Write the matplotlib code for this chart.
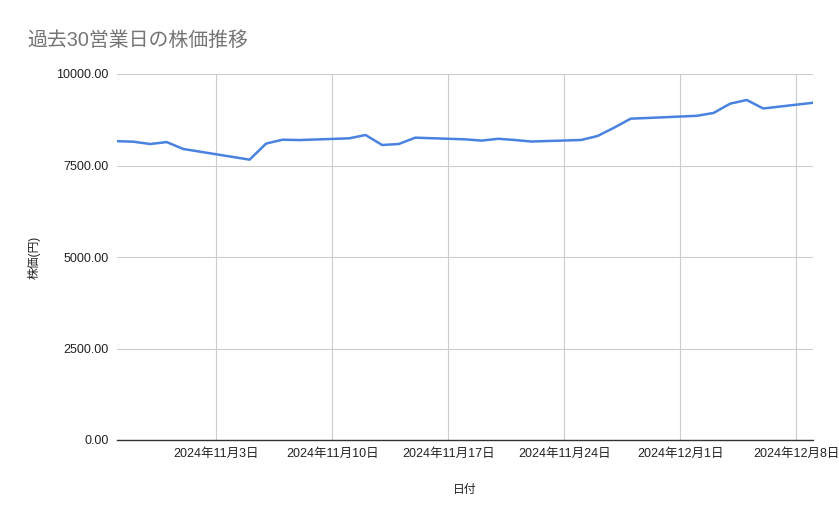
import matplotlib
matplotlib.use('Agg')
import matplotlib.pyplot as plt
import pandas as pd

plt.rcParams['font.family'] = ['Liberation Sans', 'Noto Sans CJK JP', 'DejaVu Sans']

# données : 30 jours ouvrés
dates = ['2024-10-28', '2024-10-29', '2024-10-30', '2024-10-31', '2024-11-01',
         '2024-11-05', '2024-11-06', '2024-11-07', '2024-11-08',
         '2024-11-11', '2024-11-12', '2024-11-13', '2024-11-14', '2024-11-15',
         '2024-11-18', '2024-11-19', '2024-11-20', '2024-11-21', '2024-11-22',
         '2024-11-25', '2024-11-26', '2024-11-27', '2024-11-28', '2024-11-29',
         '2024-12-02', '2024-12-03', '2024-12-04', '2024-12-05', '2024-12-06',
         '2024-12-09']
prices = [8165, 8150, 8087, 8140, 7951,
          7660, 8100, 8205, 8195,
          8242, 8333, 8060, 8087, 8260,
          8215, 8180, 8230, 8197, 8155,
          8197, 8306, 8534, 8780, 8798,
          8858, 8936, 9189, 9290, 9058,
          9214]
tick_dates = ['2024-11-03', '2024-11-10', '2024-11-17', '2024-11-24',
              '2024-12-01', '2024-12-08']
y_ticks = [0, 2500, 5000, 7500, 10000]

x = pd.to_datetime(dates)
ticks = pd.to_datetime(tick_dates)

fig = plt.figure(figsize=(8.39, 5.19), dpi=100)
ax = fig.add_axes([117 / 839, 1 - 440 / 519, (813 - 117) / 839, (440 - 74) / 519])

ax.plot(x, prices, color='#4a82e0', linewidth=1.8)

ax.set_xlim(x[0], x[-1])
ax.set_ylim(0, 10000)
ax.set_yticks(y_ticks)
ax.set_yticklabels([f'{v:.2f}' for v in y_ticks])
ax.set_xticks(ticks)
ax.set_xticklabels([f'{d.year}年{d.month}月{d.day}日' for d in ticks])

ax.grid(True, color='#cccccc', linewidth=0.8)
ax.set_axisbelow(True)
for s in ['top', 'right', 'left']:
    ax.spines[s].set_visible(False)
ax.spines['bottom'].set_color('#333333')
ax.spines['bottom'].set_linewidth(1.0)
ax.tick_params(axis='both', length=0, labelsize=9, colors='#222222')
ax.tick_params(axis='x', pad=6)
ax.tick_params(axis='y', pad=6)

ax.set_xlabel('日付', fontsize=8.5, color='#222222', labelpad=17)
ax.set_ylabel('株価(円)', fontsize=8.5, color='#222222', labelpad=11)

fig.text(27 / 839, 1 - 40 / 519, '過去30営業日の株価推移', fontsize=14.3,
         color='#757575', va='center', ha='left')

plt.savefig('out.png')
